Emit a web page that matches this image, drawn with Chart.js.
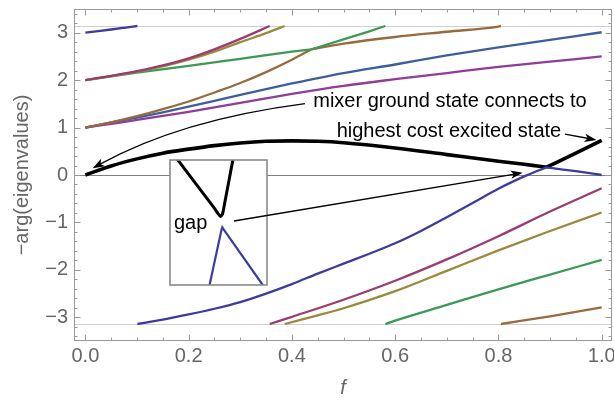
<!DOCTYPE html>
<html><head><meta charset="utf-8">
<script src="https://cdn.jsdelivr.net/npm/chart.js@4.4.1/dist/chart.umd.min.js"></script>
<style>
html,body{margin:0;padding:0;background:#fff;}
#wrap{position:relative;width:614px;height:401px;}
#main{position:absolute;left:0;top:0;}
#insetHolder{position:absolute;left:-2000px;top:0;}
</style></head><body>
<div id="wrap"><canvas id="main" width="614" height="401"></canvas></div>
<div id="insetHolder"><canvas id="inset" width="97" height="125"></canvas></div>
<script>
// ---------- tick values / labels ----------
const xMajorTicks = [0, 0.2, 0.4, 0.6, 0.8, 1.0];
const xTickLabels = ['0.0', '0.2', '0.4', '0.6', '0.8', '1.0'];
const xMinorTicks = [0.05, 0.1, 0.15, 0.25, 0.3, 0.35, 0.45, 0.5, 0.55, 0.65, 0.7, 0.75, 0.85, 0.9, 0.95];
const yMajorTicks = [-3, -2, -1, 0, 1, 2, 3];
const yTickLabels = ['\u22123', '\u22122', '\u22121', '0', '1', '2', '3'];
const yMinorTicks = [-3.4, -3.2, -2.8, -2.6, -2.4, -2.2, -1.8, -1.6, -1.4, -1.2, -0.8, -0.6, -0.4, -0.2,
                     0.2, 0.4, 0.6, 0.8, 1.2, 1.4, 1.6, 1.8, 2.2, 2.4, 2.6, 2.8, 3.2, 3.4];
const piLines = [-3.1416, 3.1416];

// ---------- series (f, -arg(eigenvalue)) ----------
const navyTopF = [0, 0.025, 0.05, 0.075, 0.1008];
const navyTopV = [3.00, 3.033, 3.068, 3.104, 3.1416];
const navyLowF = [0.1008, 0.15, 0.2, 0.25, 0.3, 0.35, 0.4, 0.45, 0.5, 0.55, 0.6, 0.65, 0.7, 0.75, 0.8, 0.85, 0.875, 0.893];
const navyLowV = [-3.1416, -3.05, -2.94, -2.82, -2.68, -2.50, -2.30, -2.08, -1.87, -1.66, -1.44, -1.18, -0.89, -0.59, -0.29, -0.03, 0.085, 0.16];
const navyEndF = [0.893, 0.925, 0.95, 1.0];
const navyEndV = [0.16, 0.115, 0.08, 0.0];

const magentaTopF = [0, 0.05, 0.1, 0.15, 0.2, 0.25, 0.3, 0.357];
const magentaTopV = [2.0, 2.09, 2.19, 2.31, 2.46, 2.65, 2.87, 3.1416];
const magentaLowF = [0.357, 0.4, 0.5, 0.6, 0.7, 0.8, 0.9, 1.0];
const magentaLowV = [-3.1416, -2.99, -2.63, -2.23, -1.78, -1.29, -0.77, -0.28];

const oliveTopF = [0, 0.05, 0.1, 0.15, 0.2, 0.25, 0.3, 0.35, 0.386];
const oliveTopV = [2.0, 2.085, 2.18, 2.29, 2.43, 2.60, 2.80, 2.99, 3.1416];
const oliveLowF = [0.386, 0.45, 0.5, 0.6, 0.7, 0.8, 0.9, 1.0];
const oliveLowV = [-3.1416, -2.96, -2.81, -2.45, -2.02, -1.59, -1.18, -0.79];

const greenTopF = [0, 0.1, 0.2, 0.3, 0.4, 0.438];
const greenTopV = [2.0, 2.16, 2.30, 2.45, 2.60, 2.65];
const greenMidF = [0.438, 0.5, 0.55, 0.581];
const greenMidV = [2.65, 2.86, 3.03, 3.1416];
const greenLowF = [0.581, 0.6, 0.7, 0.8, 0.9, 1.0];
const greenLowV = [-3.1416, -3.07, -2.74, -2.41, -2.10, -1.79];

const brownTopF = [0, 0.05, 0.1, 0.15, 0.2, 0.25, 0.3, 0.35, 0.4, 0.438];
const brownTopV = [1.0, 1.11, 1.24, 1.39, 1.55, 1.74, 1.94, 2.17, 2.43, 2.65];
const brownMidF = [0.438, 0.5, 0.6, 0.7, 0.8, 0.805];
const brownMidV = [2.65, 2.77, 2.91, 3.02, 3.13, 3.1416];
const brownLowF = [0.805, 0.9, 1.0];
const brownLowV = [-3.1416, -2.98, -2.79];

const blueF = [0, 0.05, 0.1, 0.15, 0.2, 0.3, 0.4, 0.5, 0.6, 0.7, 0.8, 0.9, 1.0];
const blueV = [1.0, 1.11, 1.21, 1.32, 1.44, 1.69, 1.93, 2.15, 2.33, 2.52, 2.69, 2.85, 3.01];

const purpleF = [0, 0.05, 0.1, 0.2, 0.3, 0.4, 0.5, 0.6, 0.7, 0.8, 0.9, 1.0];
const purpleV = [1.0, 1.08, 1.16, 1.33, 1.52, 1.71, 1.88, 2.02, 2.15, 2.28, 2.39, 2.50];

const groundF = [0, 0.05, 0.1, 0.15, 0.2, 0.25, 0.3, 0.35, 0.4, 0.45, 0.5, 0.6, 0.7, 0.8, 0.85, 0.875, 0.893];
const groundV = [0, 0.19, 0.34, 0.46, 0.545, 0.62, 0.675, 0.71, 0.72, 0.71, 0.68, 0.57, 0.43, 0.29, 0.225, 0.19, 0.165];
const groundEndF = [0.893, 0.95, 1.0];
const groundEndV = [0.165, 0.46, 0.73];

// ---------- inset (zoom on the gap) ----------
const insetGroundF = [0.88563, 0.89180, 0.89242, 0.89281, 0.89312, 0.89343, 0.89470, 0.89490];
const insetGroundV = [0.1924, 0.1671, 0.1643, 0.1629, 0.1641, 0.1689, 0.1897, 0.1934];
const insetNavyF = [0.89088, 0.89292, 0.89309, 0.89332, 0.89934, 0.89969];
const insetNavyV = [0.1266, 0.1559, 0.1577, 0.1566, 0.1300, 0.1286];

// ---------- annotation placement (data coordinates) ----------
const insetBox = {fLeft: 0.1639, fRight: 0.3518, vTop: 0.3163, vBottom: -2.319};
const arrowCurve = {from: [0.4253, 1.505], ctrl: [0.184, 1.164], to: [0.0141, 0.141]};
const arrowState = {from: [0.929, 0.864], to: [0.990, 0.738]};
const arrowGap = {from: [0.2878, -0.970], to: [0.847, 0.0485]};
const textItems = [
  {text: 'mixer ground state connects to', at: [0.4414, 1.44]},
  {text: 'highest cost excited state', at: [0.4867, 0.807]},
  {text: 'gap', at: [0.1716, -1.1385]}
];

const FONT = '"Liberation Sans", Arial, Helvetica, sans-serif';
const pts = (F, V) => F.map((f, i) => ({x: f, y: V[i]}));
const C = {navy:'#3d3d99', magenta:'#993d71', olive:'#998b3d', green:'#3d9956', brown:'#996a3d', blue:'#3d5e99', purple:'#8f3d99', black:'#000000'};

function ds(F, V, color, w) {
  return {data: pts(F, V), borderColor: color, borderWidth: w || 2.3, showLine: true, pointRadius: 0,
          cubicInterpolationMode: 'monotone', fill: false};
}

// ---------- inset chart ----------
const insetChart = new Chart(document.getElementById('inset'), {
  type: 'scatter',
  data: {datasets: [
    {data: pts(insetNavyF, insetNavyV), borderColor: C.navy, borderWidth: 2.2, showLine: true, pointRadius: 0, tension: 0},
    {data: pts(insetGroundF, insetGroundV), borderColor: C.black, borderWidth: 3, showLine: true, pointRadius: 0, tension: 0.2}
  ]},
  options: {
    responsive: false, animation: false, devicePixelRatio: 1, events: [],
    layout: {padding: 0},
    plugins: {legend: {display: false}, tooltip: {enabled: false}},
    scales: {
      x: {type: 'linear', min: 0.885, max: 0.900, display: false},
      y: {type: 'linear', min: 0.13, max: 0.19, display: false}
    }
  },
  plugins: [{id: 'bg', beforeDraw(c) { const x = c.ctx; x.save(); x.fillStyle = '#fff'; x.fillRect(0, 0, c.width, c.height); x.restore(); }}]
});

// ---------- helpers for arrows ----------
function arrowHead(ctx, tx, ty, dx, dy) {
  const L = Math.hypot(dx, dy); const ux = dx / L, uy = dy / L; const nx = -uy, ny = ux;
  const len = 12, hw = 4.2, notch = 9;
  ctx.beginPath();
  ctx.moveTo(tx, ty);
  ctx.lineTo(tx - ux * len + nx * hw, ty - uy * len + ny * hw);
  ctx.lineTo(tx - ux * notch, ty - uy * notch);
  ctx.lineTo(tx - ux * len - nx * hw, ty - uy * len - ny * hw);
  ctx.closePath();
  ctx.fill();
}

const decor = {
  id: 'decor',
  beforeDraw(c) { const x = c.ctx; x.save(); x.fillStyle = '#fff'; x.fillRect(0, 0, c.width, c.height); x.restore(); },
  beforeDatasetsDraw(c) {
    const ctx = c.ctx, a = c.chartArea, ys = c.scales.y;
    ctx.save();
    ctx.strokeStyle = '#d0d0d0'; ctx.lineWidth = 1;
    piLines.forEach(v => { const p = Math.round(ys.getPixelForValue(v)) + 0.5; ctx.beginPath(); ctx.moveTo(a.left, p); ctx.lineTo(a.right, p); ctx.stroke(); });
    ctx.strokeStyle = '#808080';
    const p0 = Math.round(ys.getPixelForValue(0)) + 0.5;
    ctx.beginPath(); ctx.moveTo(a.left, p0); ctx.lineTo(a.right, p0); ctx.stroke();
    ctx.restore();
  },
  afterDatasetsDraw(c) {
    const ctx = c.ctx, xs = c.scales.x, ys = c.scales.y;
    const X = f => xs.getPixelForValue(f), Y = v => ys.getPixelForValue(v);
    ctx.save();
    const L = X(insetBox.fLeft), R = X(insetBox.fRight), T = Y(insetBox.vTop), B = Y(insetBox.vBottom);
    ctx.drawImage(insetChart.canvas, L, T, R - L, B - T);
    ctx.strokeStyle = '#8a8a8a'; ctx.lineWidth = 1.6; ctx.strokeRect(L, T, R - L, B - T);
    ctx.strokeStyle = '#000'; ctx.fillStyle = '#000'; ctx.lineWidth = 1.3;
    {
      const p0 = [X(arrowCurve.from[0]), Y(arrowCurve.from[1])];
      const cp = [X(arrowCurve.ctrl[0]), Y(arrowCurve.ctrl[1])];
      const p2 = [X(arrowCurve.to[0]), Y(arrowCurve.to[1])];
      const dx = p2[0] - cp[0], dy = p2[1] - cp[1]; const l = Math.hypot(dx, dy);
      const e = [p2[0] - dx / l * 8, p2[1] - dy / l * 8];
      ctx.beginPath(); ctx.moveTo(p0[0], p0[1]); ctx.quadraticCurveTo(cp[0], cp[1], e[0], e[1]); ctx.stroke();
      arrowHead(ctx, p2[0], p2[1], dx, dy);
    }
    [arrowState, arrowGap].forEach(ar => {
      const s = [X(ar.from[0]), Y(ar.from[1])], t = [X(ar.to[0]), Y(ar.to[1])];
      const dx = t[0] - s[0], dy = t[1] - s[1]; const l = Math.hypot(dx, dy);
      ctx.beginPath(); ctx.moveTo(s[0], s[1]); ctx.lineTo(t[0] - dx / l * 8, t[1] - dy / l * 8); ctx.stroke();
      arrowHead(ctx, t[0], t[1], dx, dy);
    });
    ctx.font = '20px ' + FONT; ctx.textAlign = 'left'; ctx.textBaseline = 'alphabetic'; ctx.fillStyle = '#000';
    textItems.forEach(t => ctx.fillText(t.text, X(t.at[0]), Y(t.at[1])));
    ctx.restore();
  },
  afterDraw(c) {
    const ctx = c.ctx, a = c.chartArea, xs = c.scales.x, ys = c.scales.y;
    ctx.save();
    ctx.strokeStyle = '#999999'; ctx.lineWidth = 1;
    ctx.strokeRect(a.left + 0.5, a.top + 0.5, a.right - a.left - 1, a.bottom - a.top - 1);
    const tick = (vals, len, horiz) => vals.forEach(v => {
      ctx.beginPath();
      if (horiz) {
        const p = Math.round(xs.getPixelForValue(v)) + 0.5;
        ctx.moveTo(p, a.bottom); ctx.lineTo(p, a.bottom - len);
        ctx.moveTo(p, a.top); ctx.lineTo(p, a.top + len);
      } else {
        const p = Math.round(ys.getPixelForValue(v)) + 0.5;
        ctx.moveTo(a.left, p); ctx.lineTo(a.left + len, p);
        ctx.moveTo(a.right, p); ctx.lineTo(a.right - len, p);
      }
      ctx.stroke();
    });
    tick(xMajorTicks, 6.5, true); tick(xMinorTicks, 3.5, true);
    tick(yMajorTicks, 6.5, false); tick(yMinorTicks, 3.5, false);
    ctx.restore();
  }
};

new Chart(document.getElementById('main'), {
  type: 'scatter',
  data: {datasets: [
    ds(navyTopF, navyTopV, C.navy), ds(navyLowF, navyLowV, C.navy), ds(navyEndF, navyEndV, C.navy),
    ds(magentaTopF, magentaTopV, C.magenta), ds(magentaLowF, magentaLowV, C.magenta),
    ds(oliveTopF, oliveTopV, C.olive), ds(oliveLowF, oliveLowV, C.olive),
    ds(greenTopF, greenTopV, C.green), ds(greenMidF, greenMidV, C.green), ds(greenLowF, greenLowV, C.green),
    ds(brownTopF, brownTopV, C.brown), ds(brownMidF, brownMidV, C.brown), ds(brownLowF, brownLowV, C.brown),
    ds(blueF, blueV, C.blue), ds(purpleF, purpleV, C.purple),
    ds(groundF, groundV, C.black, 3.6), ds(groundEndF, groundEndV, C.black, 3.6)
  ]},
  options: {
    responsive: false, animation: false, devicePixelRatio: 1, events: [],
    layout: {padding: {top: 9, right: 2, left: 0, bottom: 0}},
    plugins: {legend: {display: false}, tooltip: {enabled: false}},
    scales: {
      x: {
        type: 'linear', min: -0.022, max: 1.02,
        afterBuildTicks: s => { s.ticks = xMajorTicks.map(v => ({value: v})); },
        afterFit: s => { s.height = 60; s.paddingLeft = 0; s.paddingRight = 0; },
        grid: {display: false, drawTicks: false}, border: {display: false},
        ticks: {callback: (v, i) => xTickLabels[i], color: '#666666', font: {family: FONT, size: 20}, padding: 3, maxRotation: 0, autoSkip: false},
        title: {display: true, text: 'f', color: '#666666', font: {family: FONT, size: 20, style: 'italic'}, padding: {top: 0, bottom: 1}}
      },
      y: {
        type: 'linear', min: -3.5, max: 3.5,
        afterBuildTicks: s => { s.ticks = yMajorTicks.map(v => ({value: v})); },
        afterFit: s => { s.width = 74; s.paddingTop = 0; s.paddingBottom = 0; },
        grid: {display: false, drawTicks: false}, border: {display: false},
        ticks: {callback: (v, i) => yTickLabels[i], color: '#666666', font: {family: FONT, size: 20}, padding: 6, autoSkip: false},
        title: {display: true, text: '\u2212arg(eigenvalues)', color: '#666666', font: {family: FONT, size: 20}, padding: {top: 10, bottom: 0}}
      }
    }
  },
  plugins: [decor]
});
</script></body></html>
